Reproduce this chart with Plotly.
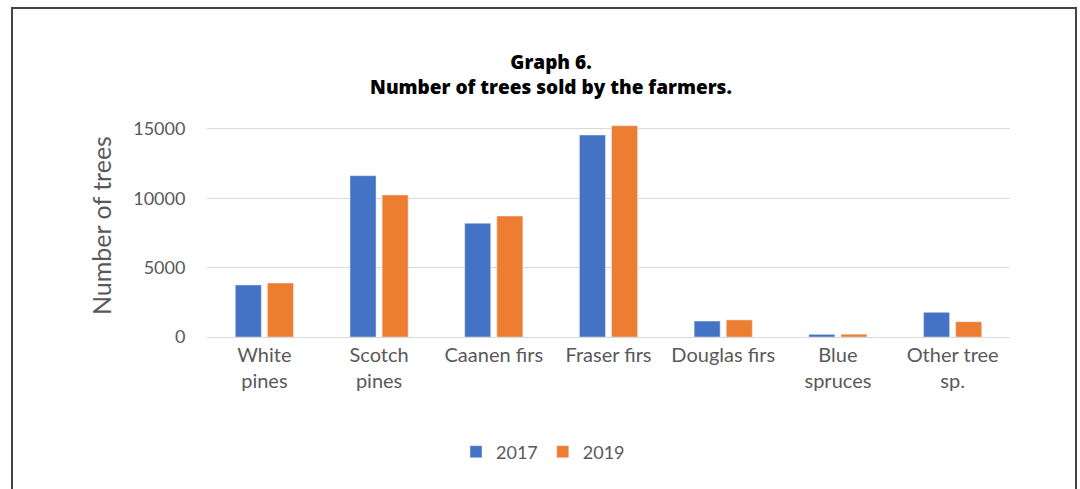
import plotly.graph_objects as go

categories = ["White<br>pines", "Scotch<br>pines", "Caanen firs", "Fraser firs",
              "Douglas firs", "Blue<br>spruces", "Other tree<br>sp."]
values_2017 = [3750, 11630, 8200, 14560, 1150, 190, 1780]
values_2019 = [3890, 10240, 8720, 15230, 1230, 200, 1100]
series_names = ["2017", "2019"]
y_ticks = [0, 5000, 10000, 15000]
y_tick_labels = ["0", "5000", "10000", "15000"]

W, H = 1080, 489
L, R, T, B = 207, 70, 122, 152
pw, ph = W - L - R, H - T - B

def px_x(x):
    return (x - L) / pw

def px_y(y):
    return (H - B - y) / ph

fig = go.Figure()
fig.add_trace(go.Bar(x=categories, y=values_2017, name=series_names[0],
                     marker_color="#4472C4"))
fig.add_trace(go.Bar(x=categories, y=values_2019, name=series_names[1],
                     marker_color="#ED7D31"))

gray = "#595959"
ytick_font = dict(family="Lato, Open Sans, sans-serif", size=18, color=gray)
xtick_font = dict(family="Lato, Open Sans, sans-serif", size=20, color=gray)
legend_font = dict(family="Lato, Open Sans, sans-serif", size=18, color=gray)

fig.update_layout(
    width=W, height=H,
    margin=dict(l=L, r=R, t=T, b=B, autoexpand=False),
    paper_bgcolor="white", plot_bgcolor="white",
    barmode="group", bargap=0.44, bargroupgap=0.19,
    title=dict(text="Graph 6.<br>Number of trees sold by the farmers.",
               font=dict(family="Open Sans, Liberation Sans, sans-serif", size=19,
                         color="black", weight=800),
               x=551 / W, xanchor="center", xref="container",
               y=1 - 69 / H, yanchor="middle", yref="container"),
    showlegend=True,
    legend=dict(orientation="h", x=px_x(543), xanchor="center",
                y=px_y(452), yanchor="middle", font=legend_font,
                traceorder="normal"),
    xaxis=dict(tickfont=xtick_font, showgrid=False, showline=True,
               linecolor="#D9D9D9", linewidth=1, ticks=""),
    yaxis=dict(range=[0, 15500], tickvals=y_ticks, ticktext=y_tick_labels,
               tickfont=ytick_font,
               showgrid=True, gridcolor="#D9D9D9", gridwidth=1,
               zeroline=False, showline=False,
               ticks="outside", ticklen=17, tickcolor="rgba(0,0,0,0)"),
    annotations=[dict(text="Number of trees", textangle=-90,
                      x=px_x(101), y=px_y(226), xref="paper", yref="paper",
                      showarrow=False, xanchor="center", yanchor="middle",
                      font=dict(family="Lato, Open Sans, sans-serif", size=25,
                                color=gray))],
    shapes=[dict(type="rect", xref="paper", yref="paper",
                 x0=px_x(12), x1=px_x(1076), y0=px_y(8), y1=px_y(500),
                 line=dict(color="#444444", width=2), fillcolor="rgba(0,0,0,0)",
                 layer="above")],
)

fig.write_html("out.html", config={"displayModeBar": False},
               post_script="document.body.style.margin='0';document.body.style.padding='0';")
